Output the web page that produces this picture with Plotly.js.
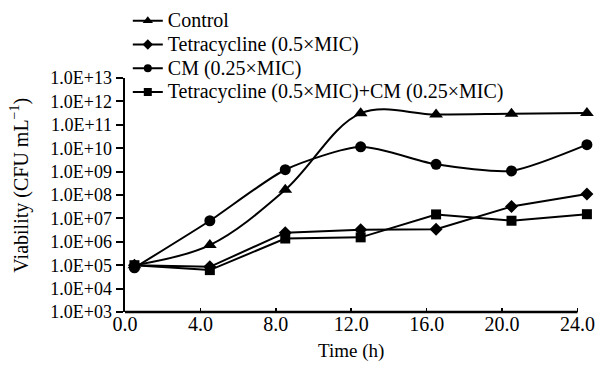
<!DOCTYPE html>
<html>
<head>
<meta charset="utf-8">
<script src="https://cdn.plot.ly/plotly-3.0.1.min.js"></script>
<style>html,body{margin:0;padding:0;background:#fff;}#chart{width:596px;height:368px;}</style>
</head>
<body>
<div id="chart"></div>
<script>
const timeH = [0.5, 4.5, 8.5, 12.5, 16.5, 20.5, 24.5];
const seriesNames = ["Control", "Tetracycline (0.5×MIC)", "CM (0.25×MIC)", "Tetracycline (0.5×MIC)+CM (0.25×MIC)"];
const controlLog = [5.0, 5.86, 8.22, 11.49, 11.44, 11.47, 11.5];
const tetraLog = [5.0, 4.93, 6.39, 6.51, 6.54, 7.51, 8.04];
const cmLog = [4.89, 6.9, 9.08, 10.06, 9.31, 9.03, 10.15];
const comboLog = [5.0, 4.79, 6.14, 6.19, 7.17, 6.9, 7.18];
const yTickExp = [3,4,5,6,7,8,9,10,11,12,13];
const xTickVals = [0,4,8,12,16,20,24];

const toVal = a => a.map(v => Math.pow(10, v));
const yTickVals = yTickExp.map(e => Math.pow(10, e));
const yTickText = yTickExp.map(e => "1.0E+" + (e < 10 ? "0" + e : e));
const xTickText = xTickVals.map(v => v.toFixed(1));

const FONT = "Liberation Serif, Times New Roman, serif";
const symbols = ["triangle-up", "diamond", "circle", "square"];
const sizes = [12, 10, 11, 10];
const legSizes = [9, 8, 8, 8];
const shapes = ["spline", "linear", "spline", "linear"];
const smooth = [1, 0, 0.65, 0];
const allLogs = [controlLog, tetraLog, cmLog, comboLog];

const data = [];
allLogs.forEach((ys, i) => {
  data.push({
    x: timeH, y: toVal(ys), name: seriesNames[i], type: "scatter", mode: "lines+markers",
    line: {color: "#000", width: 2, shape: shapes[i], smoothing: smooth[i] || undefined},
    marker: {symbol: symbols[i], size: sizes[i], color: "#000"},
    cliponaxis: false, showlegend: false
  });
});
// legend-only entries (no points drawn)
allLogs.forEach((ys, i) => {
  data.push({
    x: [null], y: [null], type: "scatter", mode: "lines+markers",
    name: '<span style="font-size:20px">' + seriesNames[i] + '</span>',
    line: {color: "#000", width: 2},
    marker: {symbol: symbols[i], size: legSizes[i], color: "#000"},
    showlegend: true
  });
});

const layout = {
  width: 596, height: 368,
  margin: {l: 125, r: 4, t: 72, b: 56},
  paper_bgcolor: "#fff", plot_bgcolor: "#fff",
  font: {family: FONT, size: 16, color: "#000"},
  showlegend: true,
  legend: {x: 0.006, y: 1.317, xanchor: "left", yanchor: "top", bgcolor: "rgba(0,0,0,0)",
           font: {family: FONT, size: 16, color: "#000"}, tracegroupgap: 0, itemwidth: 30},
  xaxis: {range: [0, 24.77], tickvals: xTickVals, ticktext: xTickText, ticks: "inside", ticklen: 4,
          tickwidth: 1.5, tickcolor: "#000", showline: false, showgrid: false, zeroline: false,
          tickfont: {family: FONT, size: 20, color: "#000"}, ticklabelstandoff: -2, fixedrange: true},
  yaxis: {type: "log", range: [3, 13], tickvals: yTickVals, ticktext: yTickText, ticks: "outside",
          ticklen: 7, tickwidth: 2, tickcolor: "#000", showline: true, linecolor: "#000", linewidth: 2.5,
          showgrid: false, zeroline: false, tickfont: {family: FONT, size: 18, color: "#000"}},
  shapes: [{type: "line", xref: "x", yref: "paper", x0: 0, x1: 24, y0: 0, y1: 0, line: {color: "#000", width: 2.5}}],
  annotations: [
    {xref: "x", yref: "paper", x: 12, y: -0.167, yanchor: "middle", text: "Time (h)", showarrow: false,
     font: {family: FONT, size: 19, color: "#000"}},
    {xref: "paper", yref: "paper", x: (20 - 125) / 467, y: 0.54, xanchor: "center", yanchor: "middle",
     textangle: -90, text: "Viability (CFU mL<sup>−1</sup>)", showarrow: false,
     font: {family: FONT, size: 20, color: "#000"}}
  ]
};
Plotly.newPlot("chart", data, layout, {displayModeBar: false, staticPlot: true});
</script>
</body>
</html>
